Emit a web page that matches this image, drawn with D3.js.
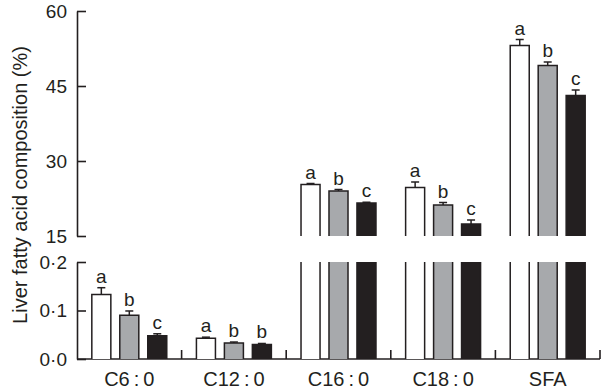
<!DOCTYPE html>
<html>
<head>
<meta charset="utf-8">
<script src="https://cdn.jsdelivr.net/npm/d3@7"></script>
<style>
body { margin: 0; background: #fff; }
text { font-family: "Liberation Sans", Arial, Helvetica, sans-serif; fill: #231f20; }
.axis path, .axis line { stroke: #231f20; stroke-width: 1.6; }
</style>
</head>
<body>
<div id="chart"></div>
<script>
// DATA
const categories = ["C6\u2009:\u20090", "C12\u2009:\u20090", "C16\u2009:\u20090", "C18\u2009:\u20090", "SFA"]
const seriesNames = ["white", "grey", "black"]
const whiteValues = [0.133, 0.043, 25.3, 24.7, 53.1]
const greyValues  = [0.090, 0.033, 24.0, 21.2, 49.1]
const blackValues = [0.048, 0.030, 21.6, 17.4, 43.1]
const whiteErr = [0.014, 0.002, 0.2, 1.1, 1.2]
const greyErr  = [0.009, 0.002, 0.3, 0.5, 0.7]
const blackErr = [0.004, 0.002, 0.15, 0.8, 1.1]
const whiteLetters = ["a", "a", "a", "a", "a"]
const greyLetters  = ["b", "b", "b", "b", "b"]
const blackLetters = ["c", "b", "c", "c", "c"]
const upperTicks = [15, 30, 45, 60]
const lowerTicks = [0, 0.1, 0.2]

// LAYOUT
var WIDTH = 601, HEIGHT = 389
var AXIS = { X: 77, RIGHT: 600, BASE: 359 }
const colours = { white: "#ffffff", grey: "#a7a9ac", black: "#231f20" }

const svg = d3.select("#chart").append("svg")
	.attr("width", WIDTH)
	.attr("height", HEIGHT)

// SCALES (broken axis: lower 0-0.2, upper 15-60)
const yLow  = d3.scaleLinear().domain([0, 0.2]).range([AXIS.BASE, 262])
const yHigh = d3.scaleLinear().domain([15, 60]).range([236, 11])
const yPos = v => v >= 15 ? yHigh(v) : yLow(v)

const xGroup = d3.scaleBand().domain(categories).range([AXIS.X, AXIS.RIGHT]).padding(0)
const xBar = d3.scaleBand().domain(seriesNames).range([0, xGroup.bandwidth()])
	.paddingInner(0.32).paddingOuter(0.53)

const rows = categories.map((c, i) => ({
	cat: c,
	bars: [
		{ s: "white", v: whiteValues[i], e: whiteErr[i], l: whiteLetters[i] },
		{ s: "grey",  v: greyValues[i],  e: greyErr[i],  l: greyLetters[i] },
		{ s: "black", v: blackValues[i], e: blackErr[i], l: blackLetters[i] }
	]
}))

// AXES
const fmt = d => d3.format(".1f")(d).replace(".", "\u00b7")
svg.append("g").attr("class", "axis")
	.attr("transform", `translate(${AXIS.X},0)`)
	.call(d3.axisLeft(yHigh).tickValues(upperTicks).tickSize(-9).tickSizeOuter(0).tickPadding(10))
svg.append("g").attr("class", "axis")
	.attr("transform", `translate(${AXIS.X},0)`)
	.call(d3.axisLeft(yLow).tickValues(lowerTicks).tickFormat(fmt).tickSize(-9).tickSizeOuter(0).tickPadding(10))
svg.selectAll(".axis text").style("font-size", "19px").attr("fill", "#231f20")

const gX = svg.append("g").attr("class", "axis")
gX.append("line").attr("x1", AXIS.X).attr("x2", AXIS.RIGHT).attr("y1", AXIS.BASE).attr("y2", AXIS.BASE)
gX.selectAll(".sep").data(categories).join("line")
	.attr("x1", d => xGroup(d) + xGroup.bandwidth()).attr("x2", d => xGroup(d) + xGroup.bandwidth())
	.attr("y1", AXIS.BASE).attr("y2", AXIS.BASE - 9)
gX.selectAll(".lab").data(categories).join("text")
	.attr("x", d => xGroup(d) + xGroup.bandwidth() / 2)
	.attr("y", 386)
	.attr("text-anchor", "middle")
	.style("font-size", "20px")
	.text(d => d)

// Y LABEL
svg.append("text")
	.attr("transform", `translate(27,185) rotate(-90)`)
	.attr("text-anchor", "middle")
	.style("font-size", "20px")
	.text("Liver fatty acid composition (%)")

// BARS
const groups = svg.selectAll(".grp").data(rows).join("g")
	.attr("class", "grp")
	.attr("transform", d => `translate(${xGroup(d.cat)},0)`)

groups.each(function(row) {
	const g = d3.select(this)
	row.bars.forEach(b => {
		const x0 = xBar(b.s), w = xBar.bandwidth(), x1 = x0 + w
		const top = yPos(b.v)
		const segs = b.v >= 15
			? [[top, yHigh(15), true], [yLow(0.2), AXIS.BASE, false]]
			: [[top, AXIS.BASE, true]]
		segs.forEach(([y0, y1, hasTop]) => {
			g.append("rect").attr("x", x0).attr("y", y0).attr("width", w).attr("height", y1 - y0)
				.attr("fill", colours[b.s])
			const p = d3.path()
			p.moveTo(x0, y1)
			p.lineTo(x0, y0)
			if (hasTop) p.lineTo(x1, y0); else p.moveTo(x1, y0)
			p.lineTo(x1, y1)
			g.append("path").attr("d", p.toString()).attr("fill", "none")
				.attr("stroke", "#231f20").attr("stroke-width", 1.5)
		})
		// error bar
		const cx = x0 + w / 2, eTop = yPos(b.v + b.e)
		g.append("line").attr("x1", cx).attr("x2", cx).attr("y1", top).attr("y2", eTop)
			.attr("stroke", "#231f20").attr("stroke-width", 1.5)
		g.append("line").attr("x1", cx - 4).attr("x2", cx + 4).attr("y1", eTop).attr("y2", eTop)
			.attr("stroke", "#231f20").attr("stroke-width", 1.5)
		g.append("text").attr("x", cx).attr("y", eTop - 5)
			.attr("text-anchor", "middle").style("font-size", "19px")
			.text(b.l)
	})
})
</script>
</body>
</html>
